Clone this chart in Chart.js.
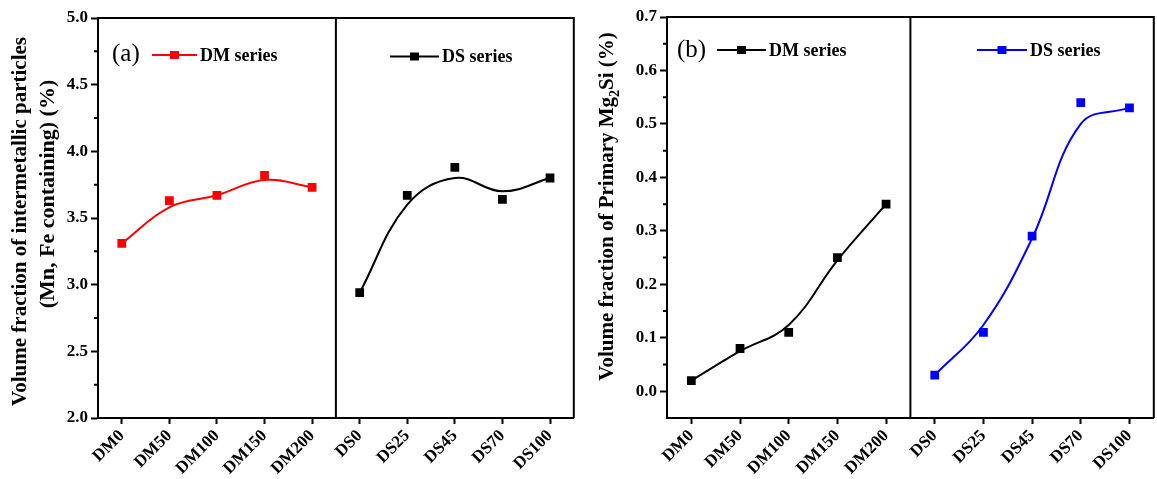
<!DOCTYPE html>
<html>
<head>
<meta charset="utf-8">
<script src="https://cdn.jsdelivr.net/npm/chart.js@4.4.1/dist/chart.umd.min.js"></script>
<style>
  html, body { margin: 0; padding: 0; background: #fff; overflow: hidden; }
  #wrap { position: relative; width: 1157px; height: 479px; overflow: hidden; }
  canvas { position: absolute; top: 0; }
</style>
</head>
<body>
<div id="wrap">
  <canvas id="chartA" width="580" height="479" style="left:0"></canvas>
  <canvas id="chartB" width="580" height="479" style="left:580px"></canvas>
</div>
<script>
// categories shared by both panels
const categories = ['DM0', 'DM50', 'DM100', 'DM150', 'DM200', 'DS0', 'DS25', 'DS45', 'DS70', 'DS100'];

// panel (a): intermetallic particles (%)
const dmPointsA = [3.31, 3.63, 3.67, 3.82, 3.73];
const dsPointsA = [2.94, 3.67, 3.88, 3.64, 3.80];
const dmCurveA = [3.31, 3.58, 3.67, 3.785, 3.73];
const dsCurveA = [2.94, 3.60, 3.80, 3.70, 3.80];
const yTicksA = [2.0, 2.5, 3.0, 3.5, 4.0, 4.5, 5.0];

// panel (b): primary Mg2Si (%)
const dmPointsB = [0.02, 0.08, 0.11, 0.25, 0.35];
const dsPointsB = [0.03, 0.11, 0.29, 0.54, 0.53];
const dmCurveB = [0.02, 0.075, 0.124, 0.245, 0.35];
const dsCurveB = [0.03, 0.124, 0.286, 0.50, 0.53];
const yTicksB = [0.0, 0.1, 0.2, 0.3, 0.4, 0.5, 0.6, 0.7];

const FONT = '"Liberation Serif", "Times New Roman", serif';

const left5 = arr => arr.concat([null, null, null, null, null]);
const right5 = arr => [null, null, null, null, null].concat(arr);

function pointSet(data, color) {
  return { data: data, showLine: false, pointStyle: 'rect', pointRadius: 6.2,
           pointBackgroundColor: color, pointBorderWidth: 0, borderColor: color };
}
function curveSet(data, color) {
  return { data: data, pointRadius: 0, borderColor: color, borderWidth: 2, tension: 0.4, fill: false };
}

// frame, divider, minor ticks, legend and y title
const decor = {
  id: 'decor',
  afterDraw(chart, args, opts) {
    const ctx = chart.ctx;
    const a = chart.chartArea;
    const x = chart.scales.x, y = chart.scales.y;
    ctx.save();
    ctx.strokeStyle = '#000';
    ctx.lineWidth = 2;
    ctx.beginPath();
    ctx.moveTo(a.left, a.top); ctx.lineTo(a.right, a.top); ctx.lineTo(a.right, a.bottom);
    ctx.stroke();
    // divider between the two series
    const mid = (x.getPixelForValue(4) + x.getPixelForValue(5)) / 2;
    ctx.beginPath();
    ctx.moveTo(mid, a.top); ctx.lineTo(mid, a.bottom);
    ctx.stroke();
    // minor y ticks
    const t = opts.ticks;
    ctx.beginPath();
    for (let i = 0; i < t.length - 1; i++) {
      const py = y.getPixelForValue((t[i] + t[i + 1]) / 2);
      ctx.moveTo(a.left, py); ctx.lineTo(a.left - 4, py);
    }
    ctx.stroke();

    // legend
    ctx.fillStyle = '#000';
    ctx.textBaseline = 'middle';
    ctx.textAlign = 'left';
    ctx.font = '25px ' + FONT;
    ctx.fillText(opts.tag, opts.tagX, opts.tagY);
    opts.legend.forEach(l => {
      ctx.strokeStyle = l.color;
      ctx.fillStyle = l.color;
      ctx.lineWidth = 2;
      ctx.beginPath();
      ctx.moveTo(l.x0, l.y); ctx.lineTo(l.x1, l.y);
      ctx.stroke();
      const mx = (l.x0 + l.x1) / 2;
      ctx.fillRect(mx - 4.5, l.y - 4, 9, 8);
      ctx.fillStyle = '#000';
      ctx.font = 'bold 18px ' + FONT;
      ctx.fillText(l.text, l.x1 + 3, l.y + 1);
    });

    // y title (rotated)
    ctx.textAlign = 'left';
    opts.title.forEach(line => {
      ctx.save();
      ctx.translate(line.x, line.y);
      ctx.rotate(-Math.PI / 2);
      let w = 0;
      line.parts.forEach(p => {
        ctx.font = 'bold ' + (p.sub ? 14 : line.size) + 'px ' + FONT;
        w += ctx.measureText(p.t).width;
      });
      let cx = -w / 2;
      line.parts.forEach(p => {
        ctx.font = 'bold ' + (p.sub ? 14 : line.size) + 'px ' + FONT;
        ctx.fillText(p.t, cx, p.sub ? 7 : 0);
        cx += ctx.measureText(p.t).width;
      });
      ctx.restore();
    });
    ctx.restore();
  }
};

function makeOptions(cfg) {
  return {
    responsive: false,
    animation: false,
    layout: { padding: cfg.padding },
    plugins: { legend: { display: false }, tooltip: { enabled: false }, decor: cfg.decor },
    scales: {
      x: {
        type: 'category',
        offset: true,
        grid: { display: true, drawOnChartArea: false, tickLength: 6, tickWidth: 2, tickColor: '#000' },
        border: { display: true, width: 2, color: '#000' },
        ticks: { color: '#000', minRotation: 45, maxRotation: 45, padding: 2, autoSkip: false,
                 font: { family: FONT, weight: 'bold', size: 17 } },
        afterFit: s => { s.height = cfg.xHeight; }
      },
      y: {
        min: cfg.min, max: cfg.max,
        grid: { display: true, drawOnChartArea: false, tickLength: 7, tickWidth: 2, tickColor: '#000' },
        border: { display: true, width: 2, color: '#000' },
        ticks: { color: '#000', padding: 3, font: { family: FONT, weight: 'bold', size: 17 },
                 callback: v => Number(v).toFixed(1) },
        afterBuildTicks: s => { s.ticks = cfg.ticks.map(v => ({ value: v })); },
        afterFit: s => { s.width = cfg.yWidth; }
      }
    }
  };
}

new Chart(document.getElementById('chartA'), {
  type: 'line',
  plugins: [decor],
  data: {
    labels: categories,
    datasets: [
      pointSet(left5(dmPointsA), '#ff0000'),
      pointSet(right5(dsPointsA), '#000000'),
      curveSet(left5(dmCurveA), '#ff0000'),
      curveSet(right5(dsCurveA), '#000000')
    ]
  },
  options: makeOptions({
    padding: { top: 18, right: 6, left: 0, bottom: 0 },
    xHeight: 61, yWidth: 98, min: 2.0, max: 5.0, ticks: yTicksA,
    decor: {
      ticks: yTicksA,
      tag: '(a)', tagX: 112, tagY: 54,
      legend: [
        { x0: 152, x1: 197, y: 55, color: '#ff0000', text: 'DM series' },
        { x0: 390, x1: 439, y: 56.5, color: '#000000', text: 'DS series' }
      ],
      title: [
        { x: 21, y: 221.5, size: 21, parts: [{ t: 'Volume fraction of intermetallic particles' }] },
        { x: 48, y: 194, size: 22, parts: [{ t: '(Mn, Fe containing) (%)' }] }
      ]
    }
  })
});

new Chart(document.getElementById('chartB'), {
  type: 'line',
  plugins: [decor],
  data: {
    labels: categories,
    datasets: [
      pointSet(left5(dmPointsB), '#000000'),
      pointSet(right5(dsPointsB), '#0000ff'),
      curveSet(left5(dmCurveB), '#000000'),
      curveSet(right5(dsCurveB), '#0000ff')
    ]
  },
  options: makeOptions({
    padding: { top: 17, right: 1.5, left: 0, bottom: 0 },
    xHeight: 61, yWidth: 87, min: -0.05, max: 0.7, ticks: yTicksB,
    decor: {
      ticks: yTicksB,
      tag: '(b)', tagX: 97, tagY: 50,
      legend: [
        { x0: 137, x1: 186, y: 50, color: '#000000', text: 'DM series' },
        { x0: 397, x1: 447, y: 50, color: '#0000ff', text: 'DS series' }
      ],
      title: [
        { x: 28, y: 206.5, size: 21, parts: [{ t: 'Volume fraction of Primary Mg' }, { t: '2', sub: true }, { t: 'Si (%)' }] }
      ]
    }
  })
});
</script>
</body>
</html>
